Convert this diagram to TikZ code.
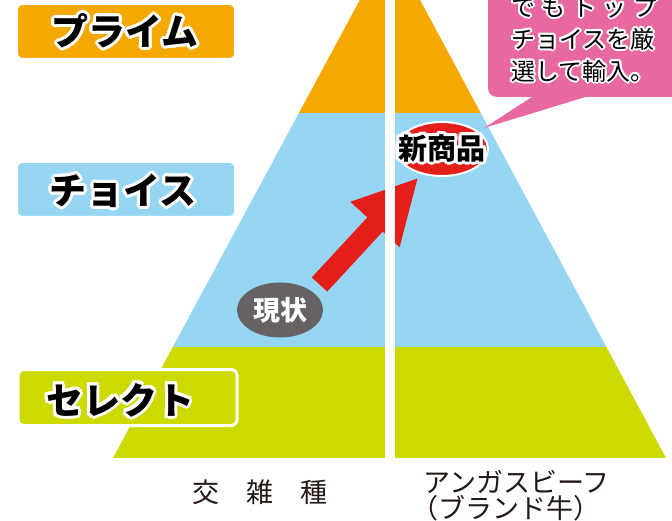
\documentclass[tikz,border=0pt]{standalone}
\usepackage{fontspec}
\newfontfamily\jp{Noto Sans CJK JP}
\usetikzlibrary{calc,shapes.geometric}
\definecolor{cO}{RGB}{244,168,0}
\definecolor{cB}{RGB}{150,214,243}
\definecolor{cG}{RGB}{205,218,0}
\definecolor{cP}{RGB}{232,104,160}
\definecolor{cR}{RGB}{228,30,25}
\definecolor{cK}{RGB}{102,98,100}
\definecolor{cT}{RGB}{35,24,21}
% #1 name, #2 coordinate, #3 font, #4 outline radius, #5 anchor, #6 text
\newcommand\outlinetext[6]{%
  \foreach \oa in {0,22.5,...,337.5}{\node[font={#3},text=white,inner sep=0pt,anchor=#5] at ($(#2)+(\oa:#4)$) {#6};}
  \node[font={#3},text=black,inner sep=0pt,anchor=#5] (#1) at (#2) {#6};
}
\tikzset{
  lbox/.style={rounded corners=6pt,draw=white,line width=3pt,minimum width=219pt,minimum height=56pt,inner sep=0pt},
}
\begin{document}
\begin{tikzpicture}[x=1pt,y=-1pt]
\useasboundingbox (0,0) rectangle (672,521);
\clip (0,0) rectangle (672,521);
% pyramid bands
\begin{scope}
  \clip (390,-56) -- (113,458) -- (666,458) -- cycle;
  \fill[cO] (0,-60) rectangle (672,113);
  \fill[cB] (0,113) rectangle (672,347);
  \fill[cG] (0,347) rectangle (672,458);
\end{scope}
% red block arrow
\fill[cR] (311.8,277.4) -- (367.3,217.4) -- (350.4,201.8) -- (417.5,178.5)
  -- (399.6,247.2) -- (382.7,231.6) -- (327.2,291.6) -- cycle;
% white divider
\fill[white] (384.5,-60) rectangle (395,462);
% ellipses
\node[ellipse,fill=cR,draw=white,line width=2pt,minimum width=92pt,minimum height=54pt,inner sep=0pt] (newe) at (442,149) {};
\outlinetext{newt}{442,148}{\jp\bfseries\fontsize{29pt}{30pt}\selectfont}{3}{center}{新商品}
\node[ellipse,fill=cK,minimum width=86pt,minimum height=55pt,inner sep=0pt,text=white,font={\jp\bfseries\fontsize{27pt}{28pt}\selectfont}] (now) at (280,310) {現状};
% left labels
\node[lbox,fill=cO] (b1) at (126,31.5) {};
\node[lbox,fill=cB] (b2) at (126,189.5) {};
\node[lbox,fill=cG] (b3) at (127.5,397.5) {};
\outlinetext{t1}{125,31}{\jp\bfseries\fontsize{37pt}{38pt}\selectfont}{3}{center}{プライム}
\outlinetext{t2}{123,191}{\jp\bfseries\fontsize{37pt}{38pt}\selectfont}{3}{center}{チョイス}
\outlinetext{t3}{120,400}{\jp\bfseries\fontsize{37pt}{38pt}\selectfont}{3}{center}{セレクト}
% callout
\fill[cP,rounded corners=9pt] (488,-30) rectangle (720,97);
\fill[cP] (484,128) -- (535,95) -- (592,95) -- cycle;
\outlinetext{c1}{511,7}{\jp\fontsize{24pt}{25pt}\selectfont}{2}{west}{\makebox[146pt][s]{で\hfill も\hfill ト\hfill ッ\hfill プ}}
\outlinetext{c2}{511,39}{\jp\fontsize{24pt}{25pt}\selectfont}{2}{west}{チョイスを厳}
\outlinetext{c3}{511,71}{\jp\fontsize{24pt}{25pt}\selectfont}{2}{west}{選して輸入。}
% bottom captions
\node[font={\jp\fontsize{27pt}{28pt}\selectfont},text=cT,inner sep=0pt] (cap1) at (260,492) {交　雑　種};
\node[font={\jp\fontsize{27pt}{28pt}\selectfont},text=cT,inner sep=0pt,anchor=west] (cap2) at (423,482) {アンガスビーフ};
\node[font={\jp\fontsize{27pt}{28pt}\selectfont},text=cT,inner sep=0pt,anchor=west] (cap3) at (411,508) {（ブランド牛）};
\end{tikzpicture}
\end{document}
